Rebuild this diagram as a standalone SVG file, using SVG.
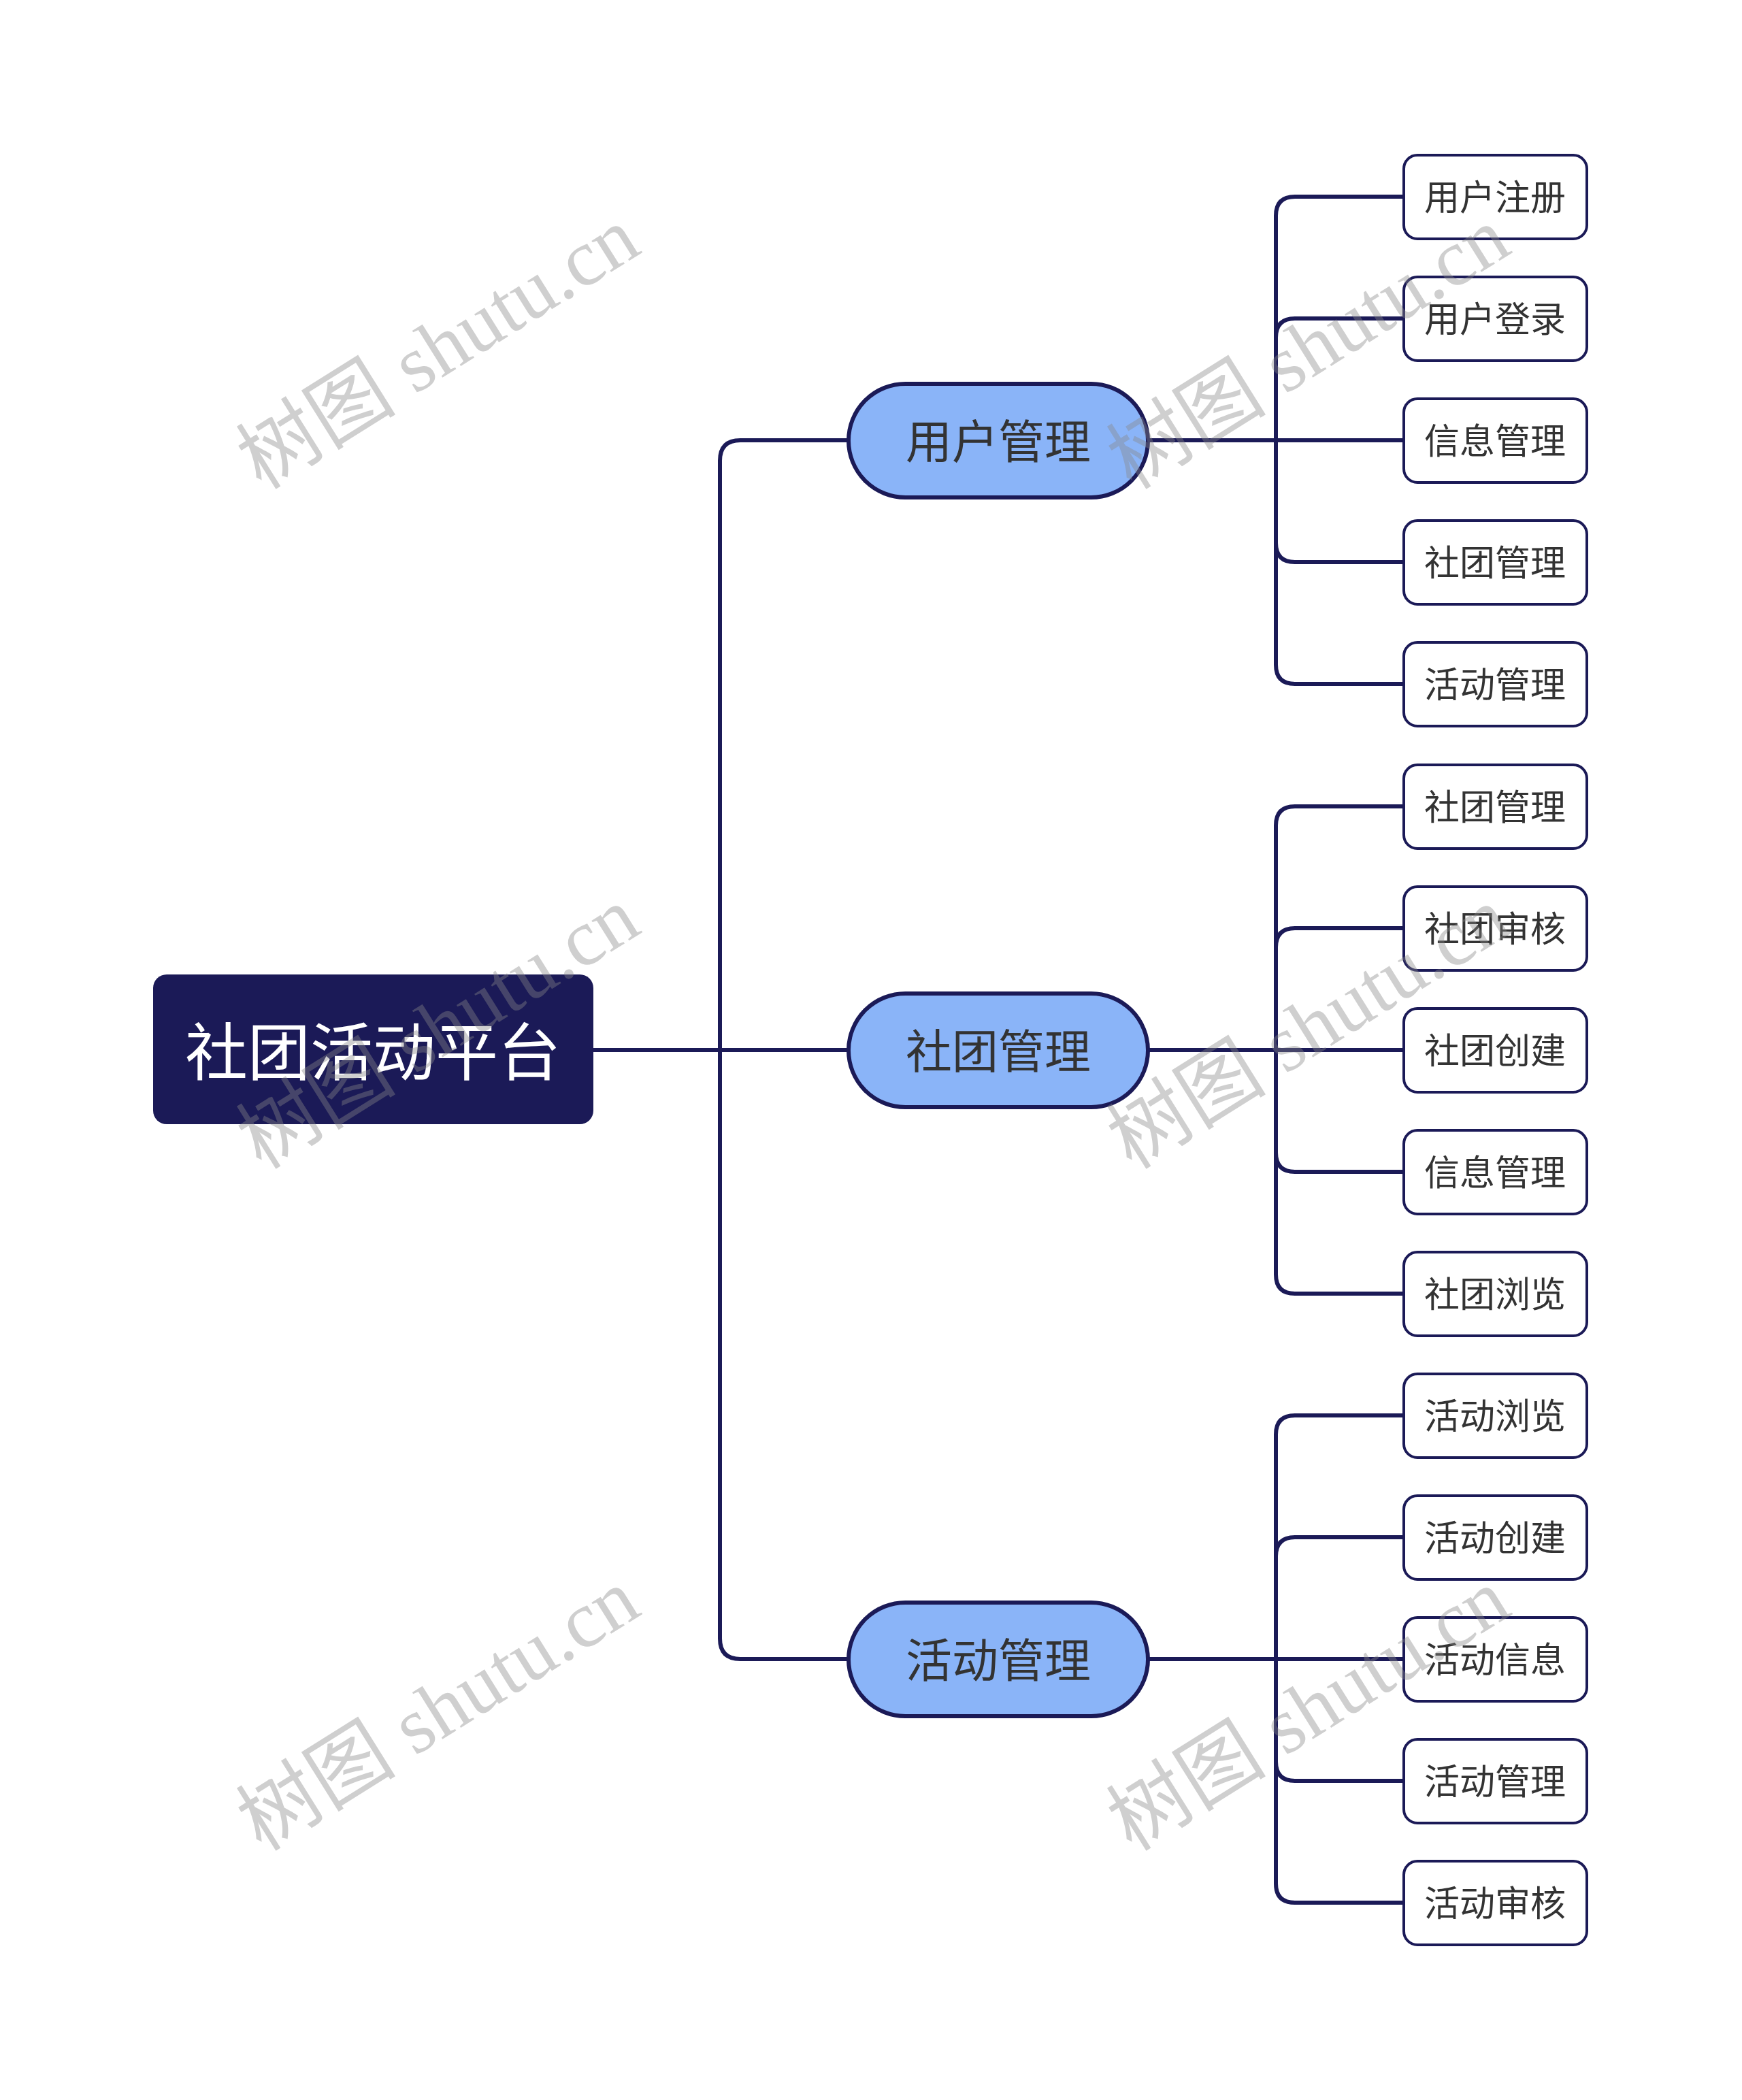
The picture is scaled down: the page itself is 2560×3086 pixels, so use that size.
<svg xmlns="http://www.w3.org/2000/svg" width="2560" height="3086" viewBox="0 0 2560 3086">
<style>
.conn{fill:none;stroke:#1B1A57;stroke-width:6;stroke-linecap:round}
.root rect{fill:#1B1A57}
.root text{fill:#FFFFFF;font-size:92px}
.mid rect{fill:#8AB4F8;stroke:#1B1A57;stroke-width:6}
.mid text{fill:#333333;font-size:68px}
.leaf rect{fill:#FFFFFF;stroke:#1B1A57;stroke-width:4}
.leaf text{fill:#333333;font-size:52px}
text{font-family:"Noto Sans CJK SC","Noto Sans",sans-serif;text-anchor:middle;dominant-baseline:central}
.wm{font-family:"Liberation Serif","Noto Sans CJK SC",serif;font-size:118px;fill:#888888;fill-opacity:0.4;text-anchor:middle;dominant-baseline:central}
</style>
<rect width="2560" height="3086" fill="#FFFFFF"/>
<g id="connectors">
<path class="conn" d="M872 1543 H1058 V677 Q1058 647 1088 647 H1247"/>
<path class="conn" d="M872 1543 H1247"/>
<path class="conn" d="M872 1543 H1058 V2408 Q1058 2438 1088 2438 H1247"/>
<path class="conn" d="M1687 647 H1875 V317 Q1875 289 1903 289 H2063"/>
<path class="conn" d="M1687 647 H1875 V496 Q1875 468 1903 468 H2063"/>
<path class="conn" d="M1687 647 H2063"/>
<path class="conn" d="M1687 647 H1875 V798 Q1875 826 1903 826 H2063"/>
<path class="conn" d="M1687 647 H1875 V977 Q1875 1005 1903 1005 H2063"/>
<path class="conn" d="M1687 1543 H1875 V1213 Q1875 1185 1903 1185 H2063"/>
<path class="conn" d="M1687 1543 H1875 V1392 Q1875 1364 1903 1364 H2063"/>
<path class="conn" d="M1687 1543 H2063"/>
<path class="conn" d="M1687 1543 H1875 V1694 Q1875 1722 1903 1722 H2063"/>
<path class="conn" d="M1687 1543 H1875 V1873 Q1875 1901 1903 1901 H2063"/>
<path class="conn" d="M1687 2438 H1875 V2108 Q1875 2080 1903 2080 H2063"/>
<path class="conn" d="M1687 2438 H1875 V2287 Q1875 2259 1903 2259 H2063"/>
<path class="conn" d="M1687 2438 H2063"/>
<path class="conn" d="M1687 2438 H1875 V2589 Q1875 2617 1903 2617 H2063"/>
<path class="conn" d="M1687 2438 H1875 V2768 Q1875 2796 1903 2796 H2063"/>
</g>
<g id="root" class="root"><rect x="225" y="1432" width="647" height="220" rx="20"/><text x="548" y="1539">社团活动平台</text></g>
<g id="m1" class="mid"><rect x="1247" y="564" width="440" height="167" rx="83.5"/><text x="1467" y="644">用户管理</text></g>
<g id="m2" class="mid"><rect x="1247" y="1460" width="440" height="167" rx="83.5"/><text x="1467" y="1540">社团管理</text></g>
<g id="m3" class="mid"><rect x="1247" y="2355" width="440" height="167" rx="83.5"/><text x="1467" y="2435">活动管理</text></g>
<g id="l1" class="leaf"><rect x="2063" y="228" width="269" height="123" rx="20"/><text x="2197" y="286">用户注册</text></g>
<g id="l2" class="leaf"><rect x="2063" y="407" width="269" height="123" rx="20"/><text x="2197" y="465">用户登录</text></g>
<g id="l3" class="leaf"><rect x="2063" y="586" width="269" height="123" rx="20"/><text x="2197" y="644">信息管理</text></g>
<g id="l4" class="leaf"><rect x="2063" y="765" width="269" height="123" rx="20"/><text x="2197" y="823">社团管理</text></g>
<g id="l5" class="leaf"><rect x="2063" y="944" width="269" height="123" rx="20"/><text x="2197" y="1002">活动管理</text></g>
<g id="l6" class="leaf"><rect x="2063" y="1124" width="269" height="123" rx="20"/><text x="2197" y="1182">社团管理</text></g>
<g id="l7" class="leaf"><rect x="2063" y="1303" width="269" height="123" rx="20"/><text x="2197" y="1361">社团审核</text></g>
<g id="l8" class="leaf"><rect x="2063" y="1482" width="269" height="123" rx="20"/><text x="2197" y="1540">社团创建</text></g>
<g id="l9" class="leaf"><rect x="2063" y="1661" width="269" height="123" rx="20"/><text x="2197" y="1719">信息管理</text></g>
<g id="l10" class="leaf"><rect x="2063" y="1840" width="269" height="123" rx="20"/><text x="2197" y="1898">社团浏览</text></g>
<g id="l11" class="leaf"><rect x="2063" y="2019" width="269" height="123" rx="20"/><text x="2197" y="2077">活动浏览</text></g>
<g id="l12" class="leaf"><rect x="2063" y="2198" width="269" height="123" rx="20"/><text x="2197" y="2256">活动创建</text></g>
<g id="l13" class="leaf"><rect x="2063" y="2377" width="269" height="123" rx="20"/><text x="2197" y="2435">活动信息</text></g>
<g id="l14" class="leaf"><rect x="2063" y="2556" width="269" height="123" rx="20"/><text x="2197" y="2614">活动管理</text></g>
<g id="l15" class="leaf"><rect x="2063" y="2735" width="269" height="123" rx="20"/><text x="2197" y="2793">活动审核</text></g>
<g id="watermarks">
<text class="wm" transform="translate(644 512) rotate(-32)">树图 shutu.cn</text>
<text class="wm" transform="translate(1923 512) rotate(-32)">树图 shutu.cn</text>
<text class="wm" transform="translate(644 1511) rotate(-32)">树图 shutu.cn</text>
<text class="wm" transform="translate(1923 1511) rotate(-32)">树图 shutu.cn</text>
<text class="wm" transform="translate(644 2513) rotate(-32)">树图 shutu.cn</text>
<text class="wm" transform="translate(1923 2513) rotate(-32)">树图 shutu.cn</text>
</g>
</svg>
